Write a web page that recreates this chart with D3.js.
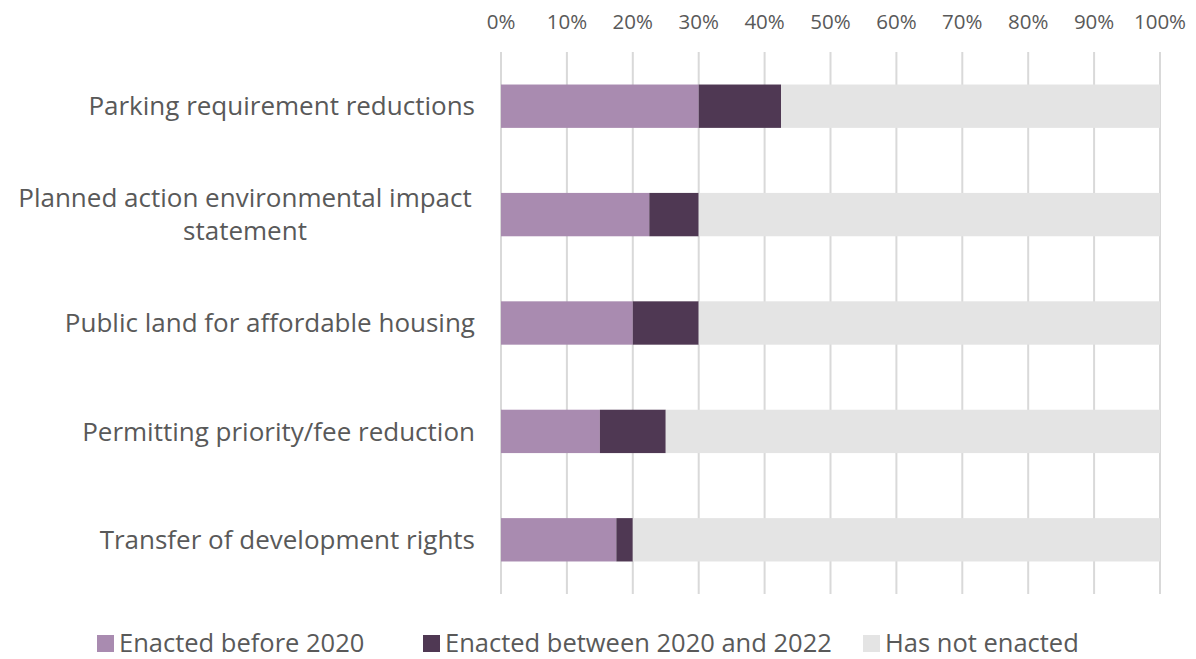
<!DOCTYPE html>
<html>
<head>
<meta charset="utf-8">
<script src="https://cdn.jsdelivr.net/npm/d3@7"></script>
<style>
  body { margin: 0; background: #fff; }
  text { font-family: "Open Sans", sans-serif; fill: #595959; }
</style>
</head>
<body>
<div id="chart"></div>
<script>
const categories = [
  ["Parking requirement reductions"],
  ["Planned action environmental impact", "statement"],
  ["Public land for affordable housing"],
  ["Permitting priority/fee reduction"],
  ["Transfer of development rights"]
];
const seriesNames = ["Enacted before 2020", "Enacted between 2020 and 2022", "Has not enacted"];
const enactedBefore = [30, 22.5, 20, 15, 17.5];
const enactedBetween = [12.5, 7.5, 10, 10, 2.5];
const notEnacted = [57.5, 70, 70, 75, 80];
const tickValues = [0, 10, 20, 30, 40, 50, 60, 70, 80, 90, 100];
const colors = ["#A98BB0", "#4F3853", "#E4E4E4"];

const width = 1196, height = 659;
const margin = { top: 52, right: 36, bottom: 65, left: 501 };

const svg = d3.select("#chart").append("svg")
  .attr("width", width).attr("height", height);

const x = d3.scaleLinear().domain([0, 100]).range([margin.left, width - margin.right]);
const y = d3.scaleBand().domain(d3.range(categories.length))
  .range([margin.top, height - margin.bottom]).paddingInner(0.6).paddingOuter(0.3);

// gridlines
svg.append("g").selectAll("line").data(tickValues).join("line")
  .attr("x1", d => x(d)).attr("x2", d => x(d))
  .attr("y1", margin.top).attr("y2", height - margin.bottom)
  .attr("stroke", "#D9D9D9").attr("stroke-width", 2);

// tick labels on top
svg.append("g").selectAll("text").data(tickValues).join("text")
  .attr("x", d => x(d)).attr("y", 29)
  .attr("text-anchor", "middle")
  .style("font-size", "20.5px")
  .text(d => d + "%");

// stacked bars
const stackData = categories.map((c, i) => ({ i, a: enactedBefore[i], b: enactedBetween[i], c: notEnacted[i] }));
const stack = d3.stack().keys(["a", "b", "c"])(stackData);

svg.append("g").selectAll("g").data(stack).join("g")
  .attr("fill", (d, k) => colors[k])
  .selectAll("rect").data(d => d).join("rect")
  .attr("x", d => x(d[0]))
  .attr("width", d => x(d[1]) - x(d[0]))
  .attr("y", d => y(d.data.i))
  .attr("height", y.bandwidth());

// category labels: single lines end at the axis, wrapped ones centred
const lineGap = 1.28;
const labels = svg.append("g").selectAll("text").data(categories).join("text")
  .style("font-size", "26px")
  .attr("text-anchor", d => d.length > 1 ? "middle" : "end")
  .attr("transform", (d, i) => `translate(${d.length > 1 ? 245 : 475},${y(i) + y.bandwidth() / 2})`);
labels.each(function(d) {
  const t = d3.select(this);
  const n = d.length;
  d.forEach((line, j) => {
    t.append("tspan").attr("x", 0)
      .attr("dy", j === 0 ? (0.35 - (n - 1) * lineGap / 2) + "em" : lineGap + "em")
      .text(line);
  });
});

// legend
const legendItems = [
  { x: 97, name: seriesNames[0], color: colors[0] },
  { x: 423, name: seriesNames[1], color: colors[1] },
  { x: 863, name: seriesNames[2], color: colors[2] }
];
const lg = svg.append("g").selectAll("g").data(legendItems).join("g")
  .attr("transform", d => `translate(${d.x},643)`);
lg.append("rect").attr("x", 0).attr("y", -8).attr("width", 17).attr("height", 17)
  .attr("fill", d => d.color);
lg.append("text").attr("x", 22).attr("y", 9)
  .style("font-size", "25.5px").text(d => d.name);
</script>
</body>
</html>
